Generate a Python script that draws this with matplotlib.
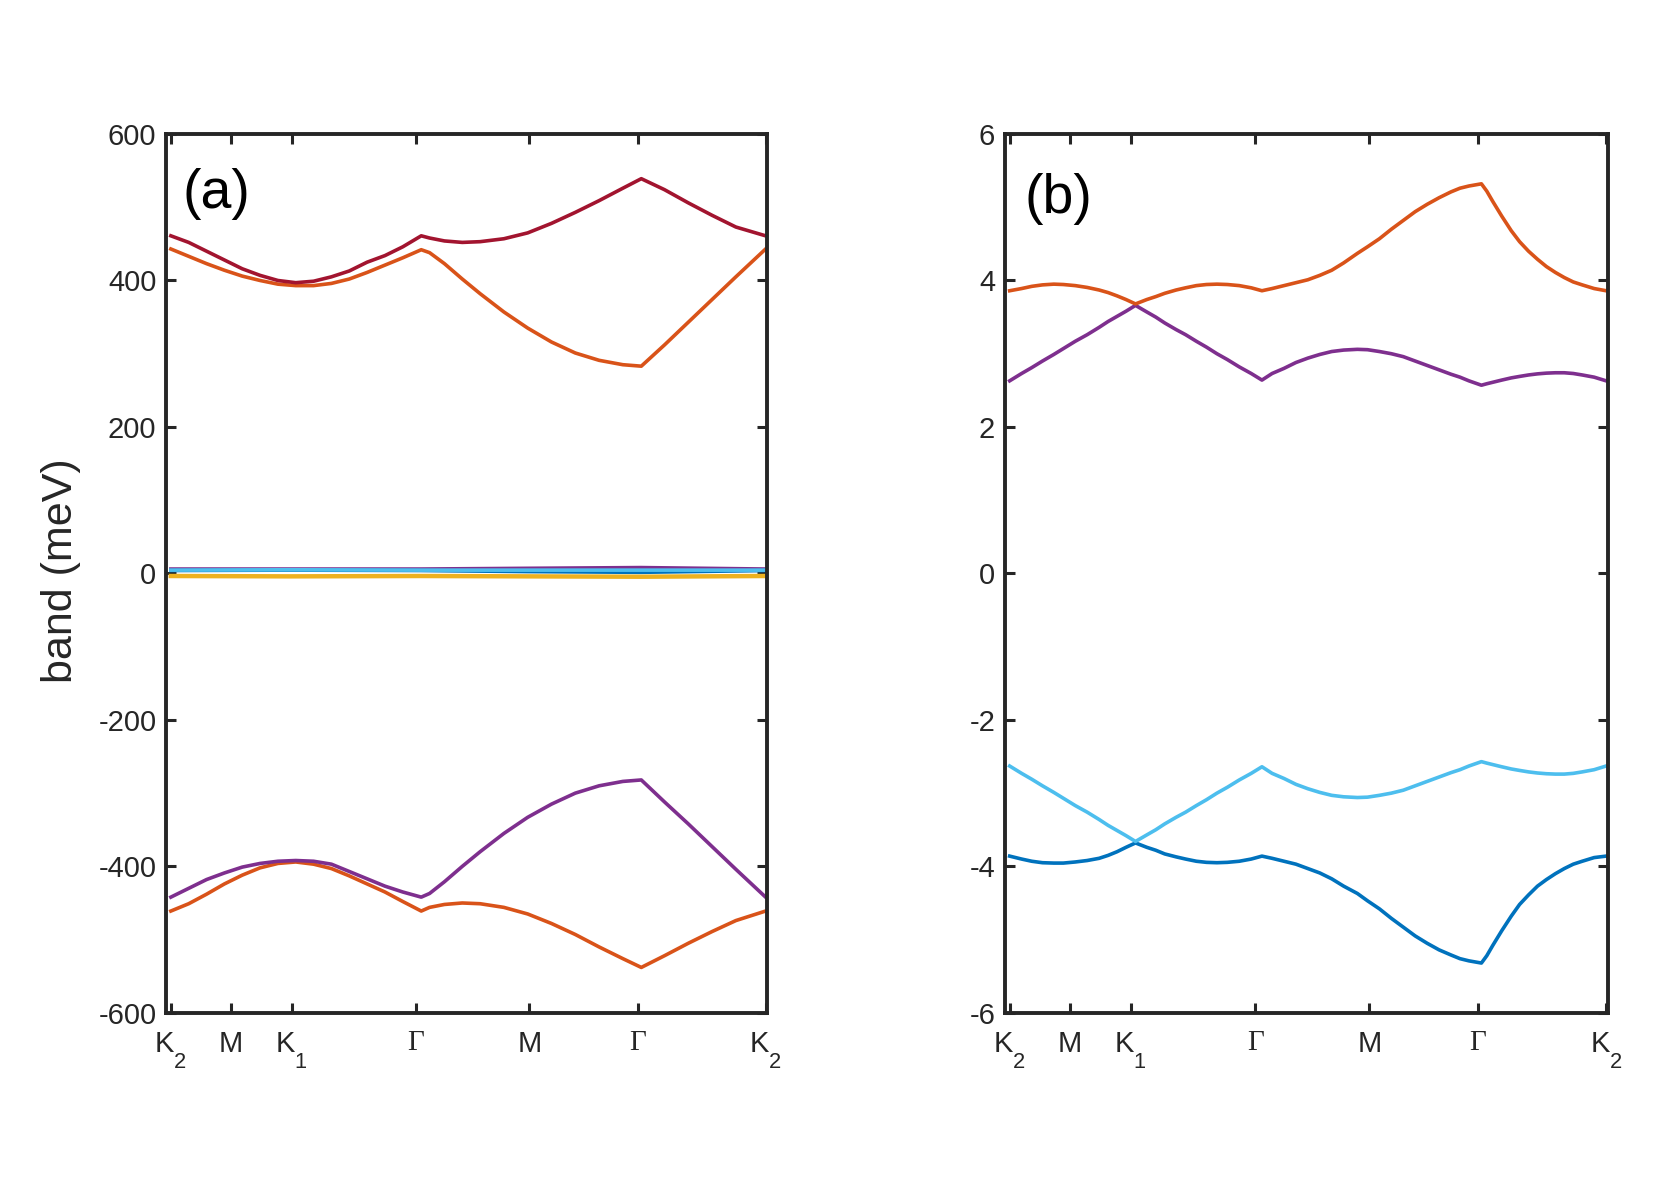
import numpy as np
import matplotlib
matplotlib.use("Agg")
import matplotlib.pyplot as plt

# MATLAB-like subscripts: a bit bigger and dropped lower than mathtext default
try:
    import matplotlib._mathtext as _mt
    _mt.SHRINK_FACTOR = 0.75
    _mt.FontConstantsBase.sub1 = 1.0
except Exception:
    pass

plt.rcParams['font.family'] = ['Liberation Sans', 'DejaVu Sans']
plt.rcParams['mathtext.fontset'] = 'custom'
plt.rcParams['mathtext.rm'] = 'Liberation Sans'
plt.rcParams['mathtext.it'] = 'Liberation Sans'
plt.rcParams['axes.unicode_minus'] = False

# high-symmetry path labels and their positions (fraction of path)
tick_pos = [0.0, 0.101, 0.203, 0.412, 0.603, 0.785, 1.0]
tick_lab = ['K$_2$', 'M', 'K$_1$', '\u0393', 'M', '\u0393', 'K$_2$']

# ---- panel (a): full spectrum, meV ----
k_a = [0.000, 0.030, 0.060, 0.090, 0.120, 0.150, 0.180, 0.210, 0.240, 0.270,
       0.300, 0.330, 0.360, 0.390, 0.421, 0.435, 0.460, 0.490, 0.520, 0.560,
       0.600, 0.640, 0.680, 0.720, 0.760, 0.791, 0.830, 0.870, 0.910, 0.950, 1.000]
a_top = [461, 452, 440, 428, 416, 407, 400, 397, 399, 405,
         413, 425, 434, 446, 461, 458, 454, 452, 453, 457,
         465, 478, 493, 509, 526, 539, 524, 506, 489, 473, 461]
a_up2 = [443, 433, 423, 414, 406, 400, 395, 393, 393, 396,
         402, 411, 421, 431, 442, 438, 423, 402, 382, 357,
         335, 316, 301, 291, 285, 283, 312, 343, 374, 405, 443]
a_lo2 = [-442, -430, -418, -409, -401, -396, -393, -392, -393, -397,
         -407, -417, -427, -435, -442, -437, -421, -400, -380, -355,
         -333, -315, -300, -290, -284, -282, -312, -342, -373, -404, -442]
a_bot = [-461, -451, -438, -424, -412, -402, -396, -394, -397, -403,
         -413, -424, -435, -448, -461, -456, -452, -450, -451, -456,
         -465, -478, -493, -510, -526, -538, -522, -505, -489, -474, -461]

# flat bands near zero in panel (a)
k_flat = [0.0, 0.2, 0.42, 0.6, 0.79, 1.0]
flat_yellow = [-3.5, -4.0, -3.5, -4.0, -4.5, -3.5]
flat_blue = [4.0, 4.5, 4.0, 2.5, 1.5, 4.0]
flat_lblue = [4.5, 5.0, 4.5, 4.5, 4.5, 4.5]
flat_purple = [6.0, 6.0, 6.0, 7.0, 8.0, 6.0]

# ---- panel (b): flat bands zoomed, meV ----
k_b = [0.000, 0.020, 0.037, 0.055, 0.074, 0.090, 0.110, 0.130, 0.150, 0.165,
       0.180, 0.195, 0.211, 0.230, 0.245, 0.260, 0.279, 0.295, 0.313, 0.330,
       0.3475, 0.365, 0.385, 0.405, 0.423, 0.440, 0.460, 0.480, 0.500, 0.520,
       0.540, 0.560, 0.583, 0.600, 0.620, 0.640, 0.660, 0.680, 0.700, 0.720,
       0.740, 0.755, 0.770, 0.791, 0.800, 0.810, 0.825, 0.841, 0.855, 0.870,
       0.885, 0.900, 0.915, 0.930, 0.945, 0.960, 0.980, 1.000]
b_orange = [3.86, 3.89, 3.92, 3.94, 3.95, 3.945, 3.93, 3.905, 3.87, 3.835,
            3.79, 3.74, 3.68, 3.74, 3.78, 3.825, 3.87, 3.90, 3.93, 3.945,
            3.95, 3.945, 3.93, 3.90, 3.86, 3.89, 3.93, 3.97, 4.01, 4.07,
            4.14, 4.24, 4.37, 4.46, 4.57, 4.70, 4.82, 4.94, 5.04, 5.13,
            5.21, 5.26, 5.29, 5.32, 5.22, 5.08, 4.88, 4.68, 4.53, 4.40,
            4.29, 4.19, 4.11, 4.04, 3.98, 3.94, 3.89, 3.86]
b_purple = [2.63, 2.73, 2.81, 2.90, 2.99, 3.07, 3.17, 3.26, 3.36, 3.44,
            3.51, 3.58, 3.66, 3.57, 3.50, 3.42, 3.33, 3.26, 3.17, 3.09,
            3.00, 2.92, 2.82, 2.73, 2.64, 2.73, 2.80, 2.88, 2.94, 2.99,
            3.03, 3.05, 3.06, 3.055, 3.03, 3.00, 2.96, 2.90, 2.84, 2.78,
            2.72, 2.68, 2.63, 2.57, 2.59, 2.61, 2.64, 2.67, 2.69, 2.71,
            2.725, 2.735, 2.74, 2.74, 2.73, 2.71, 2.68, 2.63]
b_lblue = [-2.63, -2.73, -2.81, -2.90, -2.99, -3.07, -3.17, -3.26, -3.36, -3.44,
           -3.51, -3.58, -3.66, -3.57, -3.50, -3.42, -3.33, -3.26, -3.17, -3.09,
           -3.00, -2.92, -2.82, -2.73, -2.64, -2.73, -2.80, -2.88, -2.94, -2.99,
           -3.03, -3.05, -3.06, -3.055, -3.03, -3.00, -2.96, -2.90, -2.84, -2.78,
           -2.72, -2.68, -2.63, -2.57, -2.59, -2.61, -2.64, -2.67, -2.69, -2.71,
           -2.725, -2.735, -2.74, -2.74, -2.73, -2.71, -2.68, -2.63]
b_blue = [-3.86, -3.90, -3.93, -3.95, -3.955, -3.955, -3.94, -3.92, -3.89, -3.85,
          -3.80, -3.74, -3.68, -3.74, -3.78, -3.83, -3.87, -3.90, -3.93, -3.945,
          -3.95, -3.945, -3.93, -3.90, -3.86, -3.89, -3.93, -3.97, -4.03, -4.09,
          -4.17, -4.27, -4.37, -4.47, -4.58, -4.71, -4.83, -4.95, -5.05, -5.14,
          -5.21, -5.26, -5.29, -5.32, -5.22, -5.08, -4.88, -4.68, -4.52, -4.39,
          -4.27, -4.18, -4.10, -4.03, -3.97, -3.93, -3.88, -3.86]

c_blue = '#0072BD'
c_orange = '#D95319'
c_yellow = '#EDB120'
c_purple = '#7E2F8E'
c_lblue = '#4DBEEE'
c_red = '#A2142F'
dark = '#262626'
lw = 2.6

fig = plt.figure(figsize=(16.61, 11.86), dpi=100)
ax1 = fig.add_axes([0.100, 0.146, 0.362, 0.741])
ax2 = fig.add_axes([0.605, 0.146, 0.363, 0.741])

ax1.plot(k_a, a_bot, color=c_orange, lw=lw)
ax1.plot(k_a, a_lo2, color=c_purple, lw=lw)
ax1.plot(k_flat, flat_purple, color=c_purple, lw=lw)
ax1.plot(k_flat, flat_blue, color=c_blue, lw=lw)
ax1.plot(k_flat, flat_lblue, color=c_lblue, lw=lw)
ax1.plot(k_flat, flat_yellow, color=c_yellow, lw=lw + 0.6)
ax1.plot(k_a, a_up2, color=c_orange, lw=lw)
ax1.plot(k_a, a_top, color=c_red, lw=lw)

ax2.plot(k_b, b_blue, color=c_blue, lw=lw)
ax2.plot(k_b, b_lblue, color=c_lblue, lw=lw)
ax2.plot(k_b, b_purple, color=c_purple, lw=lw)
ax2.plot(k_b, b_orange, color=c_orange, lw=lw)

ax1.set_ylim(-600, 600)
ax1.set_yticks(np.arange(-600, 601, 200))
ax2.set_ylim(-6, 6)
ax2.set_yticks(np.arange(-6, 7, 2))

for ax in (ax1, ax2):
    ax.set_xlim(-0.008, 1.003)
    ax.set_xticks(tick_pos)
    ax.set_xticklabels(tick_lab)
    for t in ax.get_xticklabels():
        if t.get_text() == '\u0393':
            t.set_fontfamily('Liberation Serif')
    for s in ax.spines.values():
        s.set_linewidth(2.8)
        s.set_color(dark)
    ax.tick_params(direction='in', length=7, width=2.2, colors=dark,
                   labelsize=21, top=True, right=True)
    ax.tick_params(axis='x', pad=12)
    ax.tick_params(axis='y', pad=7)

ax1.text(0.027, 0.932, '(a)', transform=ax1.transAxes, fontsize=40,
         ha='left', va='center', color='black')
ax2.text(0.032, 0.926, '(b)', transform=ax2.transAxes, fontsize=40,
         ha='left', va='center', color='black')
fig.text(0.037, 0.519, 'band (meV)', rotation=90, fontsize=31,
         ha='center', va='center', color=dark)

fig.savefig('out.png', dpi=100)
